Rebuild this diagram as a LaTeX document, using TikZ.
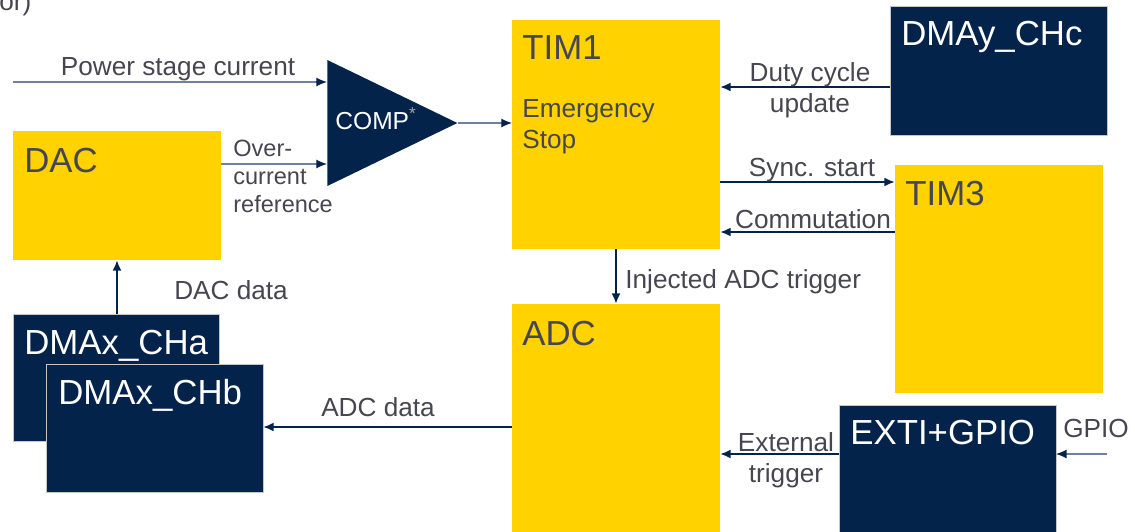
\documentclass[tikz,border=0pt]{standalone}
\usepackage{fontspec}
\setmainfont{Liberation Sans}
\usetikzlibrary{positioning, shapes.geometric}
\usetikzlibrary{arrows.meta}

\definecolor{styellow}{HTML}{FFD200}
\definecolor{stnavy}{HTML}{03234B}
\definecolor{stgray}{HTML}{464650}
\definecolor{ststeel}{HTML}{6E82A0}

\begin{document}
\begin{tikzpicture}[x=0.02cm, y=-0.02cm,
    box/.style={rectangle, inner sep=0pt, outer sep=0pt, anchor=north west},
    ybox/.style={box, fill=styellow},
    nbox/.style={box, fill=stnavy, draw=gray!45, line width=0.5pt},
    title/.style={anchor=base west, inner sep=0pt, font=\fontsize{19.8}{24}\selectfont},
    lbl/.style={inner sep=0pt, text=stgray, font=\fontsize{14.9}{17.6}\selectfont},
    bus/.style={line width=1.2pt, draw=stnavy, -{Latex[length=6pt, width=5pt]}},
    wire/.style={line width=0.6pt, draw=ststeel, -{Latex[length=6pt, width=5pt, color=stnavy]}}]
  \useasboundingbox (0,0) rectangle (1135,531);

  \node[lbl, anchor=base west] (cut) at (-1,10) {or)};

  \node[ybox,
        minimum width=4.16cm,
        minimum height=2.58cm] (DAC) at (13,131) {};
  \node[title, text=stgray] (DACt) at (24,172) {DAC};

  \node[isosceles triangle,
        isosceles triangle stretches,
        fill=stnavy,
        minimum width=2.52cm,
        minimum height=2.6cm,
        inner sep=0pt,
        anchor=west] (COMP) at (327,123) {};
  \node[inner sep=0pt,
        anchor=base west,
        text=white,
        font=\fontsize{14}{16}\selectfont] (COMPt) at (335,129) {COMP\textsuperscript{\color{gray!70}*}};

  \node[ybox,
        minimum width=4.16cm,
        minimum height=4.58cm] (TIM1) at (512,20) {};
  \node[title, text=stgray] (TIM1t) at (522,59) {TIM1};
  \node[lbl,
        anchor=north west,
        align=left] (stop) at (522,99) {Emergency\\Stop};

  \node[nbox,
        minimum width=4.34cm,
        minimum height=2.58cm] (DMAy) at (890,6) {};
  \node[title, text=white] (DMAyt) at (901,45) {DMAy\_CHc};

  \node[ybox,
        minimum width=4.16cm,
        minimum height=4.56cm] (TIM3) at (895,165) {};
  \node[title, text=stgray] (TIM3t) at (905,205) {TIM3};

  \node[ybox,
        minimum width=4.16cm,
        minimum height=4.6cm] (ADC) at (512,304) {};
  \node[title, text=stgray] (ADCt) at (522,345) {ADC};

  \node[nbox,
        minimum width=4.34cm,
        minimum height=2.6cm] (EXTI) at (839,405) {};
  \node[title, text=white] (EXTIt) at (850,444) {EXTI+GPIO};

  \node[nbox,
        minimum width=4.12cm,
        minimum height=2.54cm] (CHa) at (13,314) {};
  \node[title, text=white] (CHat) at (24,354) {DMAx\_CHa};
  \node[nbox,
        minimum width=4.34cm,
        minimum height=2.56cm] (CHb) at (46,364) {};
  \node[title, text=white] (CHbt) at (58,404) {DMAx\_CHb};

  \coordinate (psc) at (13,82);
  \coordinate (gpio) at (1107,454);

  \draw[wire] (psc) -- (COMP.west |- psc);
  \node[lbl, anchor=base] (pscl) at (178,75) {Power stage current};

  \draw[wire] (DAC.east |- 0,164) -- (COMP.west |- 0,164);
  \node[lbl,
        anchor=north west,
        align=left,
        font=\fontsize{13.4}{15.9}\selectfont] (ocr) at (233,140) {Over-\\current\\reference};

  \draw[wire] (COMP.east) -- (TIM1.west |- COMP.east);

  \draw[bus] (DMAy.west |- 0,87) -- (TIM1.east |- 0,87);
  \node[lbl, anchor=north, align=center] (duty) at (810,62) {Duty cycle\\update};

  \draw[bus] (TIM1.east |- 0,182) -- (TIM3.west |- 0,182);
  \node[lbl, anchor=base] (sync) at (812,176) {Sync. start};

  \draw[bus] (TIM3.west |- 0,232) -- (TIM1.east |- 0,232);
  \node[lbl, anchor=base] (comm) at (813,228) {Commutation};

  \draw[bus] (TIM1.south) -- (ADC.north);
  \node[lbl, anchor=base west] (inj) at (625,288) {Injected ADC trigger};

  \draw[bus] (CHa.north -| 117,0) -- (DAC.south -| 117,0);
  \node[lbl, anchor=base] (dacd) at (231,299) {DAC data};

  \draw[bus] (ADC.west |- 0,427) -- (CHb.east |- 0,427);
  \node[lbl, anchor=base] (adcd) at (378,416) {ADC data};

  \draw[bus] (EXTI.west |- gpio) -- (ADC.east |- gpio);
  \node[lbl, anchor=north, align=center] (ext) at (786,432) {External\\trigger};

  \draw[wire] (gpio) -- (EXTI.east |- gpio);
  \node[lbl, anchor=base] (gpiol) at (1096,437) {GPIO};
\end{tikzpicture}
\end{document}
